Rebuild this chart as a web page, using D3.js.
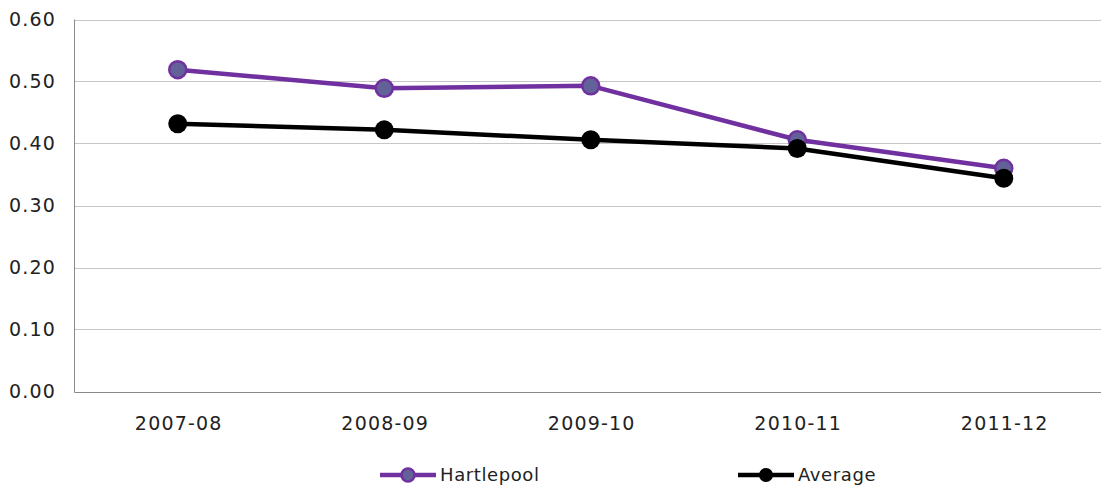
<!DOCTYPE html>
<html>
<head>
<meta charset="utf-8">
<script src="https://cdn.jsdelivr.net/npm/d3@7"></script>
<style>
  body { margin: 0; background: #fff; }
  text { font-family: "DejaVu Sans", Verdana, sans-serif; fill: #222; }
</style>
</head>
<body>
<div id="chart"></div>
<script>
const years = ["2007-08", "2008-09", "2009-10", "2010-11", "2011-12"];
const hartlepool = [0.519, 0.489, 0.493, 0.406, 0.360];
const average = [0.432, 0.422, 0.406, 0.392, 0.344];
const yTicks = [0, 0.1, 0.2, 0.3, 0.4, 0.5, 0.6];

const W = 1101, H = 488;
const margin = {top: 19.5, left: 74.5, bottom: 97};

const svg = d3.select("#chart")
  .append("svg")
    .attr("width", W)
    .attr("height", H);

// category axis runs a little past the window edge like the original
const x = d3.scaleBand()
  .domain(years)
  .range([margin.left, margin.left + 5 * 206.5]);

const y = d3.scaleLinear()
  .domain([0, 0.6])
  .range([H - margin.bottom + 0.5, margin.top]);

// gridlines
svg.append("g")
  .selectAll("line")
  .data(yTicks.slice(1))
  .join("line")
    .attr("x1", margin.left)
    .attr("x2", W)
    .attr("y1", d => Math.round(y(d)) + 0.5)
    .attr("y2", d => Math.round(y(d)) + 0.5)
    .attr("stroke", "#c6c6c6")
    .attr("stroke-width", 1);

// axis lines
svg.append("line")
  .attr("x1", margin.left).attr("x2", margin.left)
  .attr("y1", y(0.6)).attr("y2", Math.round(y(0)) + 0.5)
  .attr("stroke", "#8a8a8a");
svg.append("line")
  .attr("x1", margin.left).attr("x2", W)
  .attr("y1", Math.round(y(0)) + 0.5).attr("y2", Math.round(y(0)) + 0.5)
  .attr("stroke", "#8a8a8a");

// y labels
svg.append("g")
  .selectAll("text")
  .data(yTicks)
  .join("text")
    .attr("x", 56)
    .attr("y", d => y(d))
    .attr("dy", "0.36em")
    .attr("text-anchor", "end")
    .style("font-size", "19px")
    .style("letter-spacing", "1.2px")
    .text(d => d.toFixed(2));

// x labels
svg.append("g")
  .selectAll("text")
  .data(years)
  .join("text")
    .attr("x", d => x(d) + x.bandwidth() / 2 + 1)
    .attr("y", 430)
    .attr("text-anchor", "middle")
    .style("font-size", "19px")
    .style("letter-spacing", "1.2px")
    .text(d => d);

const cx = (d, i) => x(years[i]) + x.bandwidth() / 2;
const line = d3.line()
  .x((d, i) => cx(d, i))
  .y(d => y(d));

const series = [
  {name: "Hartlepool", values: hartlepool, stroke: "#7030a0", fill: "#626298", r: 8.5, sw: 2.5},
  {name: "Average", values: average, stroke: "#000000", fill: "#000000", r: 9.5, sw: 0}
];

series.forEach(s => {
  svg.append("path")
    .datum(s.values)
    .attr("d", line)
    .attr("fill", "none")
    .attr("stroke", s.stroke)
    .attr("stroke-width", 4.5)
    .attr("stroke-linejoin", "round");
  svg.append("g")
    .selectAll("circle")
    .data(s.values)
    .join("circle")
      .attr("cx", cx)
      .attr("cy", d => y(d))
      .attr("r", s.r)
      .attr("fill", s.fill)
      .attr("stroke", s.stroke)
      .attr("stroke-width", s.sw);
});

// legend
const legendX = [380, 738];
const legend = svg.append("g")
  .selectAll("g")
  .data(series)
  .join("g")
    .attr("transform", (d, i) => `translate(${legendX[i]}, 475)`);

legend.append("line")
  .attr("x1", 0).attr("x2", 56)
  .attr("stroke", d => d.stroke)
  .attr("stroke-width", 4.5);
legend.append("circle")
  .attr("cx", 28)
  .attr("r", d => d.sw ? 6.5 : 7)
  .attr("fill", d => d.fill)
  .attr("stroke", d => d.stroke)
  .attr("stroke-width", d => d.sw);
legend.append("text")
  .attr("x", 60)
  .attr("dy", "0.36em")
  .style("font-size", "18px")
  .style("letter-spacing", "0.6px")
  .text(d => d.name);
</script>
</body>
</html>
